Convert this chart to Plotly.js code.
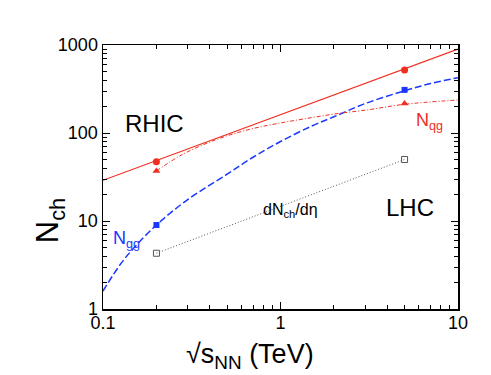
<!DOCTYPE html>
<html>
<head>
<meta charset="utf-8">
<script src="https://cdn.plot.ly/plotly-3.0.1.min.js"></script>
<style>html,body{margin:0;padding:0;background:#fff;}#chart{width:491px;height:375px;}</style>
</head>
<body>
<div id="chart"></div>
<script>
// Total multiplicity line (solid red)
const totalX = [0.1, 10];
const totalY = [29, 900];
// Filled circles (red)
const circleX = [0.2, 5];
const circleY = [47, 520];
// Triangles (red) – N_qg points
const triX = [0.2, 5];
const triY = [37, 217];
// Filled squares (blue) – N_gg points
const sqX = [0.2, 5];
const sqY = [9, 309];
// Open squares (gray) – dNch/deta
const openX = [0.2, 5];
const openY = [4.3, 50];
// N_gg curve (blue dashed)
const nggX = [0.1, 0.125, 0.15, 0.2, 0.3, 0.5, 0.7, 1, 1.5, 2, 3, 5, 7, 10];
const nggY = [1.6, 3.2, 5.0, 9, 17.5, 34, 53, 80, 120, 153, 216, 302, 365, 425];
// N_qg curve (red dash-dot)
const nqgX = [0.2, 0.28, 0.44, 0.67, 1, 1.34, 2, 3.2, 5, 10];
const nqgY = [37, 57, 85, 110, 130, 144, 164, 185, 212, 237];
// Tick labels
const xTickVals = [0.1, 1, 10];
const xTickText = ['0.1', '1', '10'];
const yTickVals = [1, 10, 100, 1000];
const yTickText = ['1', '10', '100', '1000'];
const xMinor = [0.2, 0.3, 0.4, 0.5, 0.6, 0.7, 0.8, 0.9, 2, 3, 4, 5, 6, 7, 8, 9];
const yMinor = [2, 3, 4, 5, 6, 7, 8, 9, 20, 30, 40, 50, 60, 70, 80, 90, 200, 300, 400, 500, 600, 700, 800, 900];

const RED = 'rgb(240,45,30)';
const BLUE = 'rgb(25,55,255)';
const GRAY = 'rgb(85,85,85)';
const FONT = 'Liberation Sans, Arial, sans-serif';

const traces = [
  {x: totalX, y: totalY, mode: 'lines', line: {color: RED, width: 1.2}},
  {x: nggX, y: nggY, mode: 'lines', line: {color: BLUE, width: 1.5, dash: '7px,3px', shape: 'spline'}},
  {x: nqgX, y: nqgY, mode: 'lines', line: {color: RED, width: 1, dash: '4px,2px,1px,2px', shape: 'spline'}},
  {x: openX, y: openY, mode: 'lines+markers', line: {color: GRAY, width: 1, dash: '1px,2px'},
   marker: {symbol: 'square-open', size: 6, color: GRAY, line: {width: 1, color: GRAY}}},
  {x: circleX, y: circleY, mode: 'markers', marker: {symbol: 'circle', size: 7, color: RED}},
  {x: triX, y: triY, mode: 'markers', marker: {symbol: 'triangle-up', size: 7, color: RED}},
  {x: sqX, y: sqY, mode: 'markers', marker: {symbol: 'square', size: 6, color: BLUE}}
];

function axis(tv, tt, minorVals, range) {
  return {
    type: 'log', range: range, showgrid: false, zeroline: false,
    showline: true, linecolor: '#000', linewidth: 1.5, mirror: 'allticks',
    ticks: 'inside', ticklen: 7, tickwidth: 1, tickcolor: '#000',
    tickmode: 'array', tickvals: tv, ticktext: tt,
    minor: {tickmode: 'array', tickvals: minorVals, ticks: 'inside', ticklen: 4, tickwidth: 1, tickcolor: '#000', showgrid: false},
    tickfont: {family: FONT, size: 18, color: '#000'}
  };
}

const xa = axis(xTickVals, xTickText, xMinor, [-1, 1]);
xa.ticklabelstandoff = -3;
const ya = axis(yTickVals, yTickText, yMinor, [0, 3]);

const layout = {
  width: 491, height: 375,
  margin: {l: 103, r: 33, t: 45, b: 66},
  paper_bgcolor: '#fff', plot_bgcolor: '#fff',
  showlegend: false,
  xaxis: xa,
  yaxis: ya,
  annotations: [
    {xref: 'paper', yref: 'paper', x: 0.1437, y: 0.7008, text: 'RHIC', showarrow: false,
     font: {family: FONT, size: 24, color: '#000'}, xanchor: 'center', yanchor: 'middle'},
    {xref: 'paper', yref: 'paper', x: 0.865, y: 0.3826, text: 'LHC', showarrow: false,
     font: {family: FONT, size: 24, color: '#000'}, xanchor: 'center', yanchor: 'middle'},
    {xref: 'paper', yref: 'paper', x: 0.921, y: 0.71, text: 'N<sub>qg</sub>', showarrow: false,
     font: {family: FONT, size: 18, color: RED}, xanchor: 'center', yanchor: 'middle'},
    {xref: 'paper', yref: 'paper', x: 0.0676, y: 0.265, text: 'N<sub>gg</sub>', showarrow: false,
     font: {family: FONT, size: 18, color: BLUE}, xanchor: 'center', yanchor: 'middle'},
    {xref: 'paper', yref: 'paper', x: 0.527, y: 0.375, text: 'dN<sub>ch</sub>/dη', showarrow: false,
     font: {family: FONT, size: 16, color: '#000'}, xanchor: 'center', yanchor: 'middle'},
    {xref: 'paper', yref: 'paper', x: -0.149, y: 0.333, text: 'N<sub>ch</sub>', showarrow: false, textangle: -90,
     font: {family: FONT, size: 31, color: '#000'}, xanchor: 'center', yanchor: 'middle'},
    {xref: 'paper', yref: 'paper', x: 0.414, y: -0.178, text: '√s<sub>NN</sub> (TeV)', showarrow: false,
     font: {family: FONT, size: 27, color: '#000'}, xanchor: 'center', yanchor: 'middle'}
  ]
};

Plotly.newPlot('chart', traces, layout, {displayModeBar: false, staticPlot: true});
</script>
</body>
</html>
